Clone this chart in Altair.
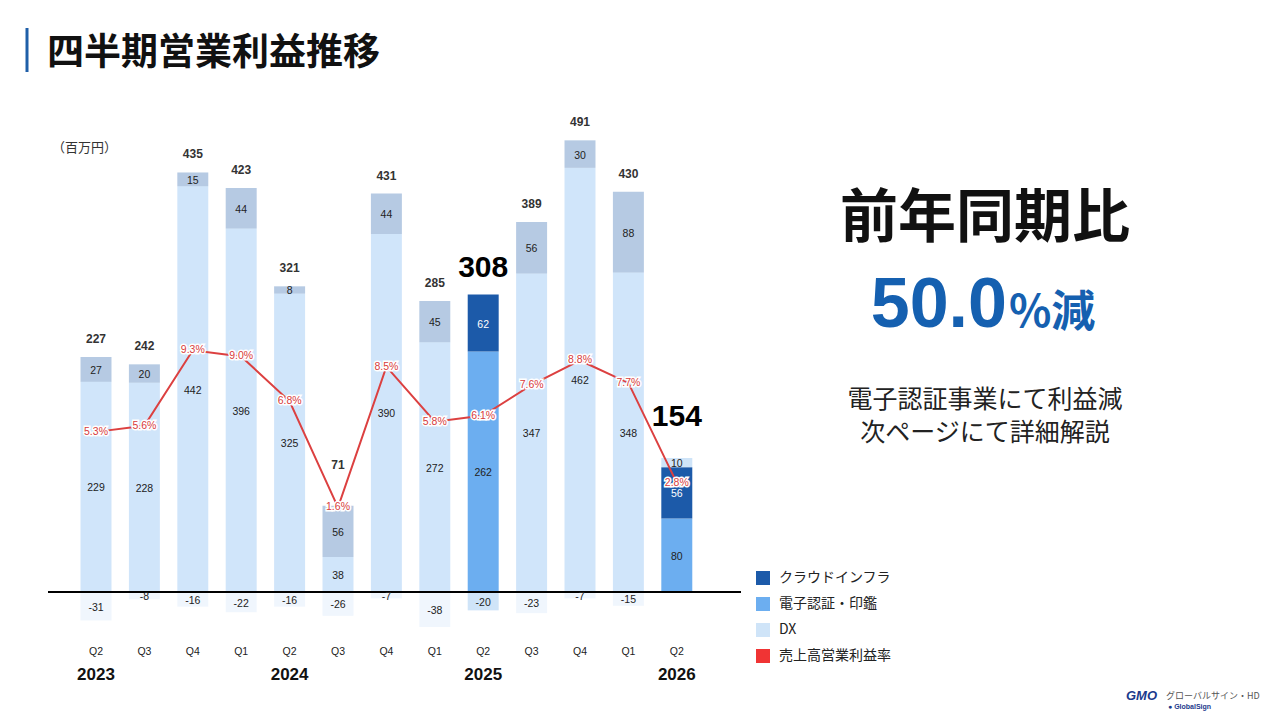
import altair as alt
import pandas as pd

# quarters on the x axis
periods = ["2023Q2", "2023Q3", "2023Q4", "2024Q1", "2024Q2", "2024Q3", "2024Q4",
           "2025Q1", "2025Q2", "2025Q3", "2025Q4", "2026Q1", "2026Q2"]
quarters = ["Q2", "Q3", "Q4", "Q1", "Q2", "Q3", "Q4", "Q1", "Q2", "Q3", "Q4", "Q1", "Q2"]
years = ["2023", "2024", "2025", "2026"]
year_at = ["2023Q2", "2024Q2", "2025Q2", "2026Q2"]

# segment values (百万円)
esign = [229, 228, 442, 396, 325, 38, 390, 272, 262, 347, 462, 348, 80]   # 電子認証・印鑑
cloud = [27, 20, 15, 44, 8, 56, 44, 45, 62, 56, 30, 88, 56]              # クラウドインフラ
dx = [-31, -8, -16, -22, -16, -26, -7, -38, -20, -23, -7, -15, 10]       # DX
totals = [227, 242, 435, 423, 321, 71, 431, 285, 308, 389, 491, 430, 154]
margin = [5.3, 5.6, 9.3, 9.0, 6.8, 1.6, 8.5, 5.8, 6.1, 7.6, 8.8, 7.7, 2.8]  # 売上高営業利益率 %
highlight = ["2025Q2", "2026Q2"]

series = ["クラウドインフラ", "電子認証・印鑑", "DX", "売上高営業利益率"]
colours = ["#1c5aa9", "#6caef0", "#cfe4f8", "#f03434"]

JP = "Noto Sans CJK JP"
NUM = "Liberation Sans"

# build stacked segments
rows = []
for p, e, c, d in zip(periods, esign, cloud, dx):
    hl = "on" if p in highlight else "off"
    rows.append({"period": p, "series": series[1], "y0": 0, "y1": e, "val": e, "hl": hl})
    rows.append({"period": p, "series": series[0], "y0": e, "y1": e + c, "val": c, "hl": hl})
    if d < 0:
        rows.append({"period": p, "series": series[2], "y0": d, "y1": 0, "val": d, "hl": hl})
    else:
        rows.append({"period": p, "series": series[2], "y0": e + c, "y1": e + c + d, "val": d, "hl": hl})
seg = pd.DataFrame(rows)
seg["mid"] = (seg.y0 + seg.y1) / 2
seg["txt"] = seg.val.astype(str)   # plain "-31", not the unicode minus of d3-format

tops = [e + c + max(d, 0) for e, c, d in zip(esign, cloud, dx)]
tot = pd.DataFrame({"period": periods, "total": [str(t) for t in totals], "top": tops})
rate = pd.DataFrame({"period": periods, "rate": margin,
                     "label": [f"{m:.1f}%" for m in margin]})
qdf = pd.DataFrame({"period": periods, "q": quarters})
ydf = pd.DataFrame({"period": year_at, "year": years})
one = pd.DataFrame({"k": [0]})

# scales (canvas pixels: zero line at y=584, 0.918 px per 百万円)
x_sc = alt.Scale(domain=periods, range=[63.8, 693], paddingInner=0.36, paddingOuter=0.18)
bar_y = alt.Scale(domain=[-100, 500], range=[675.8, 125])
rate_y = alt.Scale(domain=[0, 10], range=[532, 328])

X = alt.X("period:N", scale=x_sc, axis=None)
YB = lambda f: alt.Y(f, scale=bar_y, axis=None)
YR = alt.Y("rate:Q", scale=rate_y, axis=None)

bars = alt.Chart(seg).mark_bar().encode(
    x=X,
    y=YB("y0:Q"),
    y2="y1:Q",
    color=alt.Color("series:N", scale=alt.Scale(domain=series, range=colours),
                    legend=alt.Legend(title=None, orient="none", legendX=748, legendY=563,
                                      direction="vertical", symbolType="square",
                                      symbolSize=196, symbolStrokeWidth=0, symbolOpacity=1,
                                      labelFont=JP, labelFontSize=14, labelColor="#222",
                                      labelOffset=9, rowPadding=12, padding=0)),
    opacity=alt.Opacity("hl:N", scale=alt.Scale(domain=["on", "off"], range=[1, 0.32]),
                        legend=None),
)

seg_text = alt.Chart(seg).mark_text(font=NUM, fontSize=10.5, dy=1.5).encode(
    x=X,
    y=YB("mid:Q"),
    text="txt:N",
    color=alt.condition("datum.series === 'クラウドインフラ' && datum.hl === 'on'",
                        alt.value("white"), alt.value("#222")),
)

zero = alt.Chart(one).mark_rule(color="black", strokeWidth=2).encode(
    x=alt.value(40), x2=alt.value(733), y=YB("k:Q"))

line = alt.Chart(rate).mark_line(color="#dc4040", strokeWidth=2).encode(x=X, y=YR)
halo = alt.Chart(rate).mark_text(font=NUM, fontSize=10.5, stroke="white", strokeWidth=3,
                                 fill="white").encode(x=X, y=YR, text="label:N")
rate_text = alt.Chart(rate).mark_text(font=NUM, fontSize=10.5, color="#d83b3b").encode(
    x=X, y=YR, text="label:N")

# total labels above each bar; a few sit higher to clear the line / are emphasised
lift = {"2024Q3": 37, "2025Q2": 18, "2026Q2": 32}
big = ["2025Q2", "2026Q2"]
normal = [p for p in periods if p not in lift]
tot_layers = [
    alt.Chart(tot).transform_filter(alt.FieldOneOfPredicate(field="period", oneOf=normal))
    .mark_text(font=NUM, fontSize=12, fontWeight="bold", color="#333", baseline="alphabetic", dy=-14)
    .encode(x=X, y=YB("top:Q"), text="total:N")
]
for p, d in lift.items():
    size, col = (30, "#000") if p in big else (12, "#333")
    tot_layers.append(
        alt.Chart(tot).transform_filter(alt.datum.period == p)
        .mark_text(font=NUM, fontSize=size, fontWeight="bold", color=col,
                   baseline="alphabetic", dy=-d)
        .encode(x=X, y=YB("top:Q"), text="total:N"))

q_text = alt.Chart(qdf).mark_text(font=NUM, fontSize=10.5, color="#222").encode(
    x=X, y=alt.value(644), text="q:N")
y_text = alt.Chart(ydf).mark_text(font=NUM, fontSize=17, fontWeight="bold", color="#111").encode(
    x=X, y=alt.value(667), text="year:N")


def note(text, x, y, **kw):
    return alt.Chart(one).mark_text(text=text, **kw).encode(x=alt.value(x), y=alt.value(y))


title_bar = alt.Chart(one).mark_rule(color="#1f5fa8", strokeWidth=3).encode(
    x=alt.value(19), y=alt.value(20), y2=alt.value(64))
notes = [
    note("四半期営業利益推移", 39, 46, font=JP, fontSize=37, fontWeight="bold", align="left",
         baseline="middle", color="#111"),
    note("（百万円）", 44, 140, font=JP, fontSize=13, align="left", color="#333"),
    note("前年同期比", 977, 212, font=JP, fontSize=58, fontWeight="bold", color="#111"),
    note("50.0", 999, 319, font=NUM, fontSize=70, fontWeight="bold", color="#1560b0",
         align="right", baseline="alphabetic"),
    note("%減", 1001, 319, font=JP, fontSize=44, fontWeight="bold", color="#1560b0",
         align="left", baseline="alphabetic"),
    note("電子認証事業にて利益減", 977, 392, font=JP, fontSize=25, color="#222"),
    note("次ページにて詳細解説", 977, 425, font=JP, fontSize=25, color="#222"),
    note("GMO", 1118, 688, font=NUM, fontSize=13, fontWeight="bold", fontStyle="italic",
         color="#1b3a8c", align="left"),
    note("グローバルサイン・HD", 1158, 688, font=JP, fontSize=9, color="#555", align="left"),
    note("● GlobalSign", 1160, 699, font=NUM, fontSize=7, fontWeight="bold", color="#1b3a8c",
         align="left"),
]

chart = alt.layer(
    bars, zero, seg_text, line, halo, rate_text, *tot_layers, q_text, y_text,
    title_bar, *notes
).resolve_scale(y="independent").properties(
    width=1264, height=704, autosize=alt.AutoSizeParams(type="none"), padding=0,
    background="white"
).configure_view(stroke=None)

chart.save("out.html", embed_options={"renderer": "svg", "actions": False})
